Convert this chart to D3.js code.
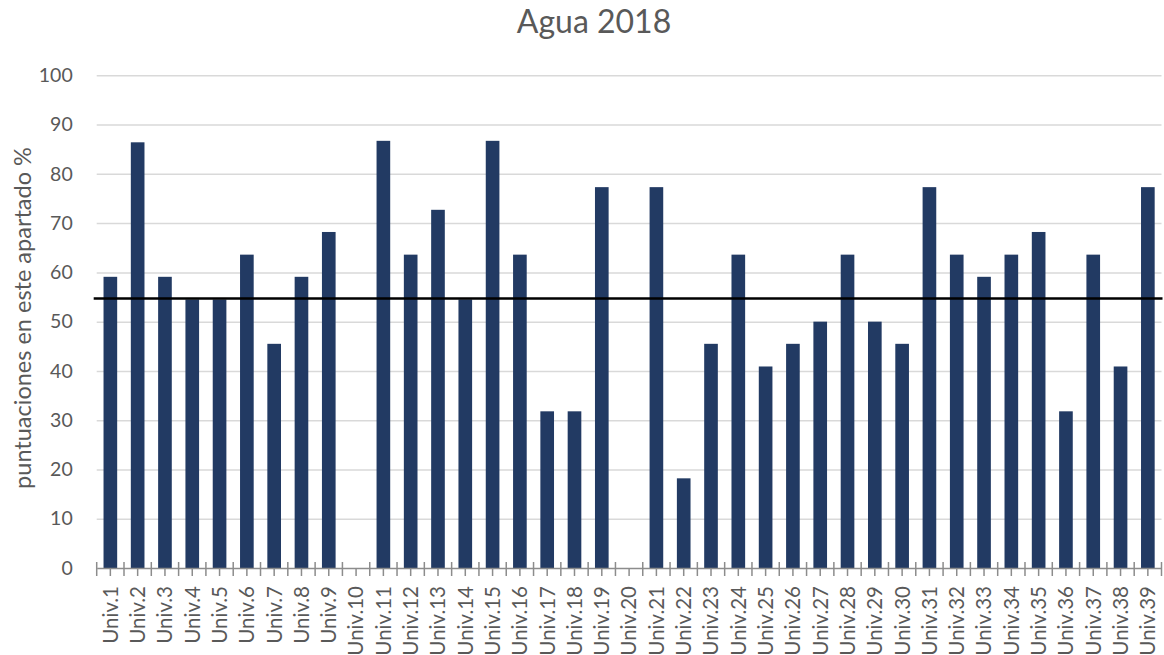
<!DOCTYPE html>
<html>
<head>
<meta charset="utf-8">
<script src="https://cdn.jsdelivr.net/npm/d3@7"></script>
<style>
  body { margin: 0; background: #fff; }
  text { font-family: Lato, "Open Sans", sans-serif; fill: #595959; }
</style>
</head>
<body>
<svg width="1164" height="655"></svg>
<script>
// categories and values
var univs = d3.range(1, 40).map(function (i) { return "Univ." + i; });
var scores = [59.1, 86.4, 59.1, 54.5, 54.5, 63.6, 45.5, 59.1, 68.2, 0,
              86.7, 63.6, 72.7, 54.5, 86.7, 63.6, 31.8, 31.8, 77.3, 0,
              77.3, 18.2, 45.5, 63.6, 40.9, 45.5, 50.0, 63.6, 50.0, 45.5,
              77.3, 63.6, 59.1, 63.6, 68.2, 31.8, 63.6, 40.9, 77.3];
var refLine = [54.7];
var yTicks = [0, 10, 20, 30, 40, 50, 60, 70, 80, 90, 100];

var svg = d3.select("svg");
var pLeft = 96.7, pRight = 1161.5, pTop = 75.3, pBottom = 568;

var x = d3.scaleBand().domain(univs).range([pLeft, pRight])
    .paddingInner(0.5).paddingOuter(0.25);
var y = d3.scaleLinear().domain([0, 100]).range([pBottom, pTop]);

// gridlines + y labels
var yAxis = svg.append("g")
    .attr("transform", "translate(" + pLeft + ",0)")
    .call(d3.axisLeft(y).tickValues(yTicks).tickSize(-(pRight - pLeft)).tickPadding(24));
yAxis.select(".domain").remove();
yAxis.selectAll("line").attr("stroke", "#d9d9d9").attr("stroke-width", 1.5);
yAxis.selectAll("text").style("font-size", "19.5px").attr("fill", "#595959");
yAxis.selectAll(".tick").filter(function (d) { return d == 0; }).select("line").remove();

// bars
svg.selectAll("rect.bar")
    .data(scores)
    .enter()
    .append("rect")
        .attr("class", "bar")
        .attr("x", function (d, i) { return x(univs[i]); })
        .attr("y", function (d) { return y(d); })
        .attr("width", x.bandwidth())
        .attr("height", function (d) { return pBottom - y(d); })
        .attr("fill", "#223a63");

// x axis: centre ticks from the axis, boundary ticks cross it
var xAxis = svg.append("g")
    .attr("transform", "translate(0," + pBottom + ")")
    .call(d3.axisBottom(x).tickSize(8).tickSizeOuter(0).tickPadding(10));
xAxis.select(".domain").attr("stroke", "#8c8c8c").attr("stroke-width", 1.5);
xAxis.selectAll("line").attr("stroke", "#8c8c8c").attr("stroke-width", 1.5);
xAxis.selectAll("text")
    .style("font-size", "20.5px")
    .attr("fill", "#595959")
    .attr("text-anchor", "end")
    .attr("transform", "rotate(-90)")
    .attr("x", -18)
    .attr("y", 0)
    .attr("dy", "0.36em");

var step = x.step();
var bounds = d3.range(0, univs.length + 1).map(function (i) { return pLeft + i * step; });
xAxis.selectAll("line.bound")
    .data(bounds)
    .enter()
    .append("line")
        .attr("class", "bound")
        .attr("x1", function (d) { return d; })
        .attr("x2", function (d) { return d; })
        .attr("y1", -6)
        .attr("y2", 8)
        .attr("stroke", "#8c8c8c")
        .attr("stroke-width", 1.5);

// reference line
svg.selectAll("line.ref")
    .data(refLine)
    .enter()
    .append("line")
        .attr("class", "ref")
        .attr("x1", pLeft - 3)
        .attr("x2", pRight + 1)
        .attr("y1", function (d) { return y(d); })
        .attr("y2", function (d) { return y(d); })
        .attr("stroke", "#000")
        .attr("stroke-width", 2.5);

// title
svg.append("text")
    .attr("x", 594)
    .attr("y", 33)
    .attr("text-anchor", "middle")
    .style("font-size", "32px")
    .text("Agua 2018");

// y axis title
svg.append("text")
    .attr("transform", "translate(31," + 318 + ") rotate(-90)")
    .attr("text-anchor", "middle")
    .style("font-size", "23.5px")
    .text("puntuaciones en este apartado  %");
</script>
</body>
</html>
